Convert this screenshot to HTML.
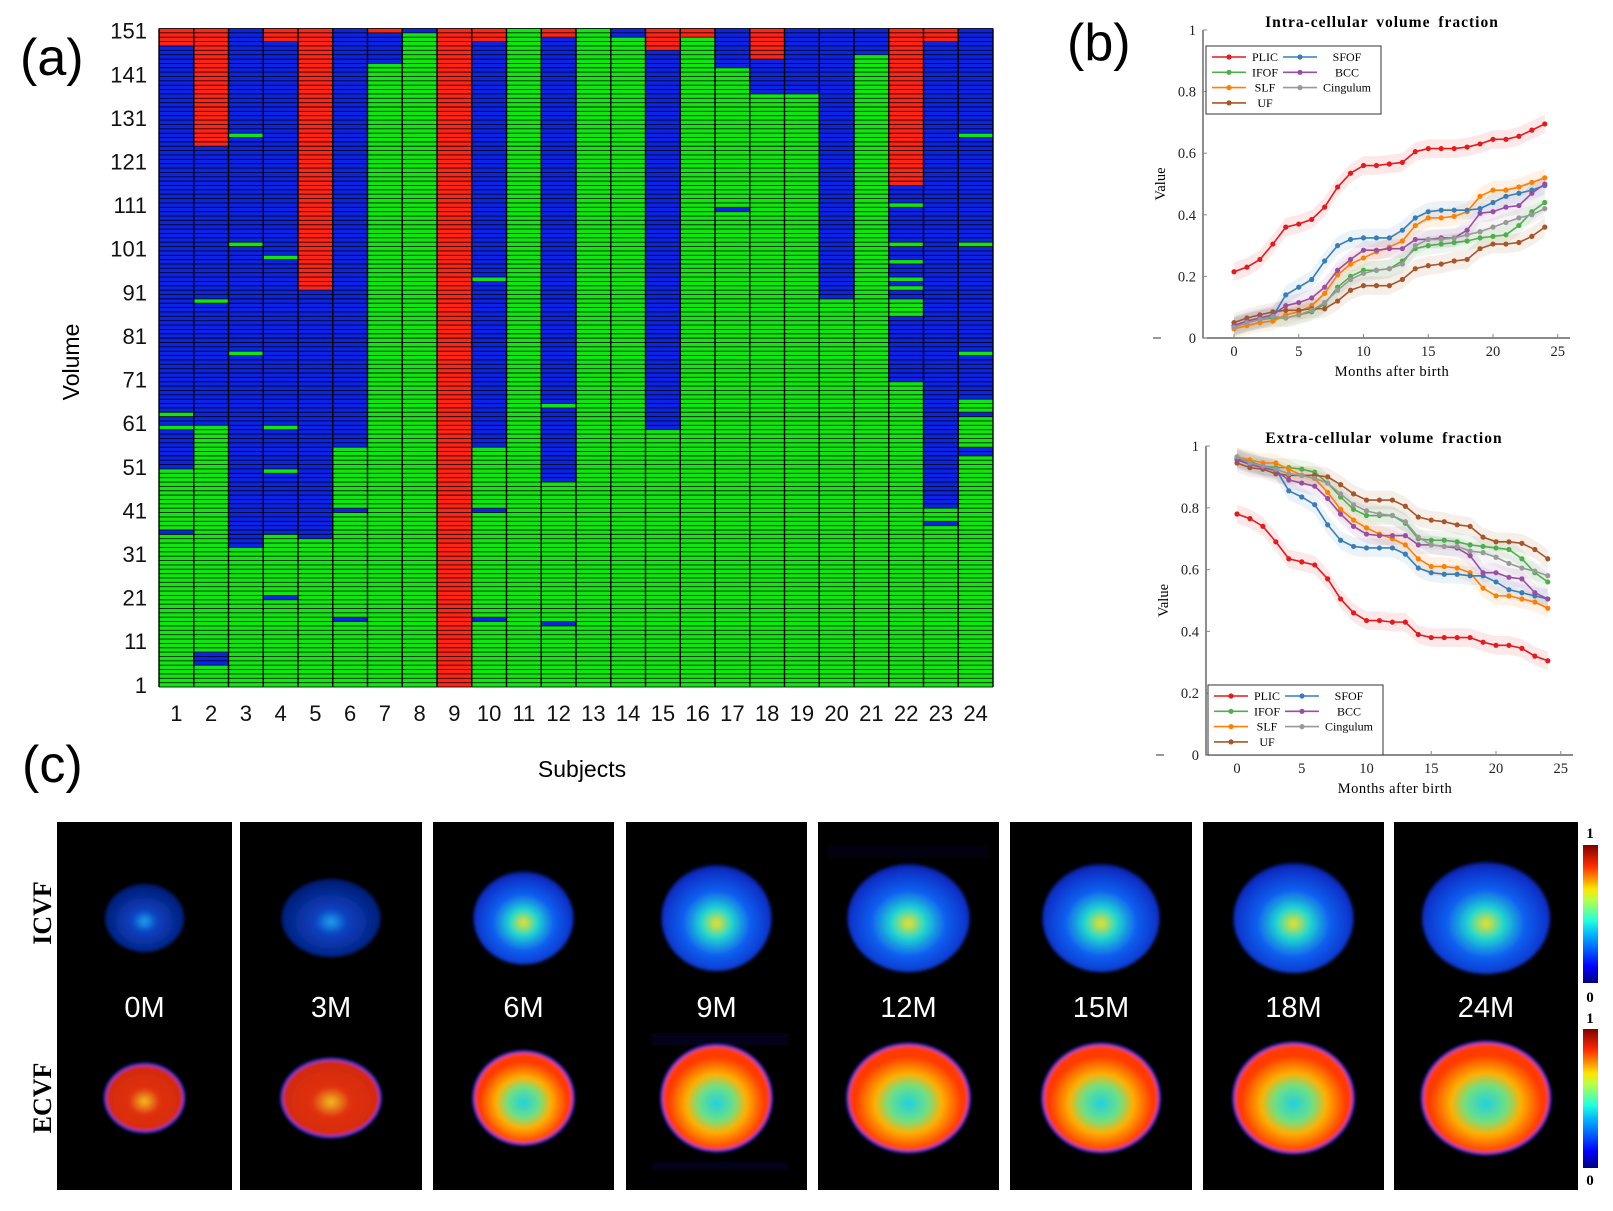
<!DOCTYPE html>
<html><head><meta charset="utf-8">
<style>
html,body{margin:0;padding:0;background:#fff;}
svg{display:block;}
.sans{font-family:"Liberation Sans",Arial,sans-serif;}
.serif{font-family:"Liberation Serif","DejaVu Serif",serif;}
</style></head>
<body>
<svg id="fig" width="1613" height="1211" viewBox="0 0 1613 1211" xmlns="http://www.w3.org/2000/svg">
<defs>
<linearGradient id="jet" x1="0" y1="1" x2="0" y2="0">
<stop offset="0" stop-color="#00007f"/><stop offset="0.12" stop-color="#0000ff"/><stop offset="0.35" stop-color="#00b4ff"/><stop offset="0.45" stop-color="#1fffe0"/><stop offset="0.6" stop-color="#b4ff48"/><stop offset="0.68" stop-color="#ffe600"/><stop offset="0.85" stop-color="#ff2a00"/><stop offset="1" stop-color="#7f0000"/>
</linearGradient>
<radialGradient id="icvfG" cx="0.5" cy="0.55" r="0.55">
<stop offset="0" stop-color="#f0e020"/><stop offset="0.25" stop-color="#20d8d0"/><stop offset="0.55" stop-color="#1060f0"/><stop offset="0.9" stop-color="#0830c8"/><stop offset="1" stop-color="#061c90"/>
</radialGradient>
<radialGradient id="icvfG0" cx="0.5" cy="0.55" r="0.55">
<stop offset="0" stop-color="#20a0f0"/><stop offset="0.3" stop-color="#0840c0"/><stop offset="1" stop-color="#051a70"/>
</radialGradient>
<radialGradient id="ecvfG" cx="0.5" cy="0.55" r="0.55">
<stop offset="0" stop-color="#20d0e0"/><stop offset="0.3" stop-color="#70e080"/><stop offset="0.5" stop-color="#ffb000"/><stop offset="0.8" stop-color="#ff3800"/><stop offset="1" stop-color="#ff4000"/>
</radialGradient>
<radialGradient id="ecvfG0" cx="0.5" cy="0.55" r="0.55">
<stop offset="0" stop-color="#f0c020"/><stop offset="0.35" stop-color="#e03010"/><stop offset="1" stop-color="#d02a10"/>
</radialGradient>
<filter id="soft"><feGaussianBlur stdDeviation="1.5"/></filter>
</defs>
<g id="panelA"></g>
<g id="panelB1"></g>
<g id="panelB2"></g>
<g id="panelC"></g>
<text x="20" y="75" class="sans" font-size="52">(a)</text>
<text x="1067" y="60" class="sans" font-size="52">(b)</text>
<text x="22" y="782" class="sans" font-size="52">(c)</text>
</svg>
<script>
// ---------- Panel (a) data ----------
const subjects = [1,2,3,4,5,6,7,8,9,10,11,12,13,14,15,16,17,18,19,20,21,22,23,24];
const volumeTicks = [1,11,21,31,41,51,61,71,81,91,101,111,121,131,141,151];
const nVolumes = 151;
// runs: [startVolume, endVolume, class] class: G / B / R
const subjectRuns = [
 [[1,35,'G'],[36,36,'B'],[37,50,'G'],[51,59,'B'],[60,60,'G'],[61,62,'B'],[63,63,'G'],[64,147,'B'],[148,151,'R']],
 [[1,5,'G'],[6,8,'B'],[9,60,'G'],[61,88,'B'],[89,89,'G'],[90,124,'B'],[125,151,'R']],
 [[1,32,'G'],[33,76,'B'],[77,77,'G'],[78,101,'B'],[102,102,'G'],[103,126,'B'],[127,127,'G'],[128,151,'B']],
 [[1,20,'G'],[21,21,'B'],[22,35,'G'],[36,49,'B'],[50,50,'G'],[51,59,'B'],[60,60,'G'],[61,98,'B'],[99,99,'G'],[100,148,'B'],[149,151,'R']],
 [[1,34,'G'],[35,91,'B'],[92,151,'R']],
 [[1,15,'G'],[16,16,'B'],[17,40,'G'],[41,41,'B'],[42,55,'G'],[56,151,'B']],
 [[1,143,'G'],[144,150,'B'],[151,151,'R']],
 [[1,150,'G'],[151,151,'B']],
 [[1,151,'R']],
 [[1,15,'G'],[16,16,'B'],[17,40,'G'],[41,41,'B'],[42,55,'G'],[56,93,'B'],[94,94,'G'],[95,148,'B'],[149,151,'R']],
 [[1,151,'G']],
 [[1,14,'G'],[15,15,'B'],[16,47,'G'],[48,64,'B'],[65,65,'G'],[66,149,'B'],[150,151,'R']],
 [[1,151,'G']],
 [[1,149,'G'],[150,151,'B']],
 [[1,59,'G'],[60,146,'B'],[147,151,'R']],
 [[1,149,'G'],[150,151,'R']],
 [[1,109,'G'],[110,110,'B'],[111,142,'G'],[143,151,'B']],
 [[1,136,'G'],[137,144,'B'],[145,151,'R']],
 [[1,136,'G'],[137,151,'B']],
 [[1,89,'G'],[90,151,'B']],
 [[1,145,'G'],[146,151,'B']],
 [[1,70,'G'],[71,85,'B'],[86,89,'G'],[90,91,'B'],[92,92,'G'],[93,93,'B'],[94,94,'G'],[95,97,'B'],[98,98,'G'],[99,101,'B'],[102,102,'G'],[103,110,'B'],[111,111,'G'],[112,115,'B'],[116,151,'R']],
 [[1,37,'G'],[38,38,'B'],[39,41,'G'],[42,148,'B'],[149,151,'R']],
 [[1,53,'G'],[54,55,'B'],[56,62,'G'],[63,63,'B'],[64,66,'G'],[67,76,'B'],[77,77,'G'],[78,101,'B'],[102,102,'G'],[103,126,'B'],[127,127,'G'],[128,151,'B']]
];
// ---------- Panel (b) data ----------
const months = [0,1,2,3,4,5,6,7,8,9,10,11,12,13,14,15,16,17,18,19,20,21,22,23,24];
const tractNames = ['PLIC','IFOF','SLF','UF','SFOF','BCC','Cingulum'];
const icvfPLIC = [.215,.23,.255,.305,.36,.37,.385,.425,.49,.535,.56,.56,.565,.57,.605,.615,.615,.615,.62,.63,.645,.645,.655,.675,.695];
const icvfIFOF = [.035,.05,.06,.065,.065,.075,.085,.11,.165,.2,.22,.22,.225,.25,.29,.30,.305,.31,.315,.325,.33,.335,.365,.41,.44];
const icvfSLF  = [.03,.04,.05,.055,.075,.085,.105,.145,.205,.24,.26,.28,.295,.315,.365,.39,.39,.395,.41,.46,.48,.48,.49,.505,.52];
const icvfUF   = [.05,.065,.075,.085,.09,.09,.095,.095,.12,.155,.17,.17,.17,.19,.225,.235,.24,.25,.255,.29,.305,.305,.31,.33,.36];
const icvfSFOF = [.04,.05,.06,.07,.14,.165,.19,.25,.30,.32,.325,.325,.325,.35,.39,.41,.415,.415,.415,.42,.44,.46,.47,.48,.495];
const icvfBCC  = [.04,.055,.065,.075,.105,.115,.13,.165,.22,.255,.285,.285,.29,.29,.32,.32,.325,.325,.35,.405,.41,.425,.43,.47,.50];
const icvfCing = [.035,.05,.06,.07,.065,.075,.09,.115,.155,.19,.21,.22,.225,.24,.3,.32,.32,.325,.335,.345,.36,.375,.39,.40,.42];
const ecvfPLIC = [.78,.765,.74,.69,.635,.625,.615,.57,.505,.46,.435,.435,.43,.43,.39,.38,.38,.38,.38,.365,.355,.355,.345,.32,.305];
const ecvfIFOF = [.96,.95,.935,.93,.93,.925,.915,.88,.835,.795,.775,.775,.775,.75,.70,.695,.695,.69,.68,.675,.67,.665,.635,.59,.56];
const ecvfSLF  = [.965,.955,.945,.945,.925,.905,.895,.85,.795,.76,.735,.715,.70,.68,.635,.61,.61,.605,.59,.54,.515,.515,.505,.495,.475];
const ecvfUF   = [.945,.93,.925,.91,.905,.905,.905,.90,.875,.845,.825,.825,.825,.805,.77,.76,.755,.745,.74,.705,.69,.69,.685,.665,.635];
const ecvfSFOF = [.96,.945,.935,.925,.855,.835,.81,.745,.695,.675,.67,.67,.67,.65,.605,.59,.585,.585,.58,.58,.56,.535,.525,.515,.505];
const ecvfBCC  = [.955,.94,.93,.92,.89,.88,.87,.83,.78,.74,.715,.71,.71,.71,.68,.68,.675,.67,.645,.59,.59,.575,.57,.525,.505];
const ecvfCing = [.965,.945,.935,.925,.91,.905,.895,.88,.845,.81,.79,.78,.775,.755,.705,.68,.675,.675,.66,.655,.64,.62,.605,.595,.58];
const xTicks = [0,5,10,15,20,25];
const yTicks = [0,0.2,0.4,0.6,0.8,1];
// ---------- Panel (c) data ----------
const ageLabels = ['0M','3M','6M','9M','12M','15M','18M','24M'];

const NS='http://www.w3.org/2000/svg';
function mk(tag, attrs, parent){const e=document.createElementNS(NS,tag);for(const k in attrs)e.setAttribute(k,attrs[k]);if(parent)parent.appendChild(e);return e;}

// ===== Panel A =====
(function(){
 const g=document.getElementById('panelA');
 const L=159,R=993,T=28.5,B=687;
 const cw=(R-L)/subjects.length, rh=(B-T)/nVolumes;
 const xs=i=>L+i*cw, ys=v=>B-(v)*rh;
 const col={G:'#0ee80e',B:'#0c24e6',R:'#ff2414'};
 subjectRuns.forEach((runs,i)=>{
  runs.forEach(r=>{
   const e=mk('rect',{x:xs(i),y:ys(r[1]),width:cw,height:(r[1]-r[0]+1)*rh,fill:col[r[2]]},g);
   
   
  });
 });
 let d='';
 for(let v=0;v<=nVolumes;v++){const y=ys(v).toFixed(2);d+='M'+L+' '+y+'H'+R;}
 const hl=mk('path',{d:d,stroke:'#000','stroke-width':0.9,fill:'none','stroke-opacity':0.85},g);
 
 
 let d2='';
 for(let i=0;i<=subjects.length;i++){d2+='M'+xs(i).toFixed(2)+' '+T+'V'+B;}
 const vl=mk('path',{d:d2,stroke:'#000','stroke-width':1.4,fill:'none'},g);
 
 
 volumeTicks.forEach(v=>{
  const t=mk('text',{x:147,y:ys(v-0.5)+8,'text-anchor':'end','font-size':22,class:'sans',fill:'#111'},g);
  t.textContent=v;
  
  
 });
 subjects.forEach((s,i)=>{
  const t=mk('text',{x:xs(i)+cw/2,y:721,'text-anchor':'middle','font-size':22,class:'sans',fill:'#111'},g);
  t.textContent=s;
  
  
 });
 const yl=mk('text',{x:0,y:0,transform:'translate(79,362) rotate(-90)','text-anchor':'middle','font-size':23,class:'sans'},g);
 yl.textContent='Volume';
 
 
 const xl=mk('text',{x:582,y:777,'text-anchor':'middle','font-size':23,class:'sans'},g);
 xl.textContent='Subjects';
 
 
})();

// ===== Panel B =====
const colors={PLIC:'#e41a1c',IFOF:'#4daf4a',SLF:'#ff7f00',UF:'#a65628',SFOF:'#377eb8',BCC:'#984ea3',Cingulum:'#999999'};
function lineChart(gid,cfg,series){
 const g=document.getElementById(gid);
 const x=m=>cfg.x0+m*cfg.mx, y=v=>cfg.y0-(v)*(cfg.y0-cfg.y1);
 tractNames.forEach(n=>{
  const vals=series[n];
  let d='M'+months.map((m,i)=>x(m)+' '+y(vals[i]+0.03)).join(' L');
  d+=' L'+months.slice().reverse().map((m,j)=>{const i=months.length-1-j;return x(m)+' '+y(vals[i]-0.03);}).join(' L')+'Z';
  const p=mk('path',{d:d,fill:colors[n],'fill-opacity':0.1,stroke:'none'},g);
  
  
 });
 const ax=mk('path',{d:'M'+cfg.axL+' '+y(1)+'V'+cfg.y0+'H'+cfg.axR,stroke:'#444','stroke-width':1.2,fill:'none'},g);
 
 
 const dash=mk('line',{x1:cfg.axL-50,x2:cfg.axL-42,y1:cfg.y0,y2:cfg.y0,stroke:'#333','stroke-width':1},g);
 
 
 yTicks.forEach(v=>{
  const t=mk('text',{x:cfg.axL-7,y:y(v)+5,'text-anchor':'end','font-size':14.5,class:'serif',fill:'#222'},g);
  t.textContent=(v===0||v===1)?String(v):v.toFixed(1);
  
  
  const tk=mk('line',{x1:cfg.axL,x2:cfg.axL+4,y1:y(v),y2:y(v),stroke:'#888'},g);
  
  
 });
 xTicks.forEach(m=>{
  const t=mk('text',{x:x(m),y:cfg.y0+18,'text-anchor':'middle','font-size':14.5,class:'serif',fill:'#222'},g);
  t.textContent=m;
  
  
  const tk=mk('line',{x1:x(m),x2:x(m),y1:cfg.y0,y2:cfg.y0-4,stroke:'#888'},g);
  
  
 });
 const xt=mk('text',{x:cfg.x0+12.2*cfg.mx,y:cfg.y0+38,'text-anchor':'middle','font-size':14.5,'letter-spacing':0.5,class:'serif'},g);
 xt.textContent='Months after birth';
 
 
 const yt=mk('text',{x:0,y:0,transform:'translate('+(cfg.axL-38)+','+((cfg.y0+y(1))/2)+') rotate(-90)','text-anchor':'middle','font-size':14.5,class:'serif'},g);
 yt.textContent='Value';
 
 
 const tt=mk('text',{x:cfg.titleX,y:cfg.titleY,'text-anchor':'middle','font-size':15.5,'font-weight':'bold','letter-spacing':1,'word-spacing':3,class:'serif'},g);
 tt.textContent=cfg.title;
 
 
 tractNames.forEach(n=>{
  const vals=series[n];
  const pl=mk('polyline',{points:months.map((m,i)=>x(m)+','+y(vals[i])).join(' '),fill:'none',stroke:colors[n],'stroke-width':1.6},g);
  
  
  months.forEach((m,i)=>{
   const c=mk('circle',{cx:x(m),cy:y(vals[i]),r:2.6,fill:colors[n]},g);
   
   
  });
 });
 const lg=mk('g',{},g);
 
 
 const bx=mk('rect',{x:cfg.lgX,y:cfg.lgY,width:175,height:cfg.lgH,fill:'#fff',stroke:'#333','stroke-width':1},lg);
 
 
 const pos=[[0,0],[0,1],[0,2],[0,3],[1,0],[1,1],[1,2]];
 tractNames.forEach((n,k)=>{
  const c=pos[k][0], r=pos[k][1];
  const lx=cfg.lgX+6+c*71, ly=cfg.lgY+cfg.lgRow0+r*15.3;
  const e=mk('g',{},lg);
  
  
  mk('line',{x1:lx,x2:lx+34,y1:ly,y2:ly,stroke:colors[n],'stroke-width':1.6},e);
  mk('circle',{cx:lx+17,cy:ly,r:2.6,fill:colors[n]},e);
  const t=mk('text',{x:lx+(c?64:53),y:ly+4,'text-anchor':'middle','font-size':12,class:'serif'},e);
  t.textContent=n;
 });
}
lineChart('panelB1',{x0:1234,mx:12.95,y0:338,y1:30,axL:1203,axR:1570,title:'Intra-cellular volume fraction',titleX:1382,titleY:27,lgX:1206,lgY:46,lgH:68,lgRow0:11},
 {PLIC:icvfPLIC,IFOF:icvfIFOF,SLF:icvfSLF,UF:icvfUF,SFOF:icvfSFOF,BCC:icvfBCC,Cingulum:icvfCing});
lineChart('panelB2',{x0:1237,mx:12.95,y0:755,y1:446,axL:1206,axR:1573,title:'Extra-cellular volume fraction',titleX:1384,titleY:443,lgX:1208,lgY:685,lgH:70,lgRow0:11},
 {PLIC:ecvfPLIC,IFOF:ecvfIFOF,SLF:ecvfSLF,UF:ecvfUF,SFOF:ecvfSFOF,BCC:ecvfBCC,Cingulum:ecvfCing});

// ===== Panel C =====
(function(){
 const g=document.getElementById('panelC');
 const panelX=[[57,232],[240,422],[433,614],[626,807],[818,999],[1010,1192],[1203,1384],[1394,1578]];
 const bw=[79,99,100,110,122,117,120,128], bh=[68,78,93,106,108,108,110,112];
 ageLabels.forEach((lab,i)=>{
  const [a,b]=panelX[i]; const cx=(a+b)/2;
  const p=mk('g',{},g);
  
  
  mk('rect',{x:a,y:822,width:b-a,height:368,fill:'#000'},p);
  if(lab==='9M'){mk('rect',{x:a+26,y:1033,width:136,height:12,fill:'#02021a'},p);mk('rect',{x:a+26,y:1162,width:136,height:8,fill:'#02021a'},p);}
  if(lab==='12M'){mk('rect',{x:a+9,y:846,width:160,height:12,fill:'#010110'},p);}
  const w=bw[i],h=bh[i];
  const early=i<2;
  const ic=mk('ellipse',{cx:cx,cy:918,rx:w/2,ry:h/2,fill:early?'url(#icvfG0)':'url(#icvfG)',filter:'url(#soft)'},p);
  
  
  const ec=mk('ellipse',{cx:cx,cy:1098,rx:w/2,ry:h/2,fill:early?'url(#ecvfG0)':'url(#ecvfG)',stroke:'#1040ff','stroke-width':2,filter:'url(#soft)'},p);
  
  
  const t=mk('text',{x:cx,y:1017,'text-anchor':'middle','font-size':29,fill:'#fff',class:'sans'},p);
  t.textContent=lab;
  
  
 });
 const r1=mk('text',{x:0,y:0,transform:'translate(51,913) rotate(-90)','text-anchor':'middle','font-size':26,'font-weight':'bold',class:'serif'},g);
 r1.textContent='ICVF';
 
 
 const r2=mk('text',{x:0,y:0,transform:'translate(51,1098) rotate(-90)','text-anchor':'middle','font-size':26,'font-weight':'bold',class:'serif'},g);
 r2.textContent='ECVF';
 
 
 [[845,983,833,997],[1029,1168,1018,1180]].forEach((c,k)=>{
  const cb=mk('rect',{x:1583,y:c[0],width:15,height:c[1]-c[0],fill:'url(#jet)'},g);
  
  
  const t1=mk('text',{x:1590,y:c[2]+5,'text-anchor':'middle','font-size':15,'font-weight':'bold',class:'serif'},g);
  t1.textContent='1';
  
  
  const t0=mk('text',{x:1590,y:c[3]+5,'text-anchor':'middle','font-size':15,'font-weight':'bold',class:'serif'},g);
  t0.textContent='0';
  
  
 });
})();
</script>
</body></html>
